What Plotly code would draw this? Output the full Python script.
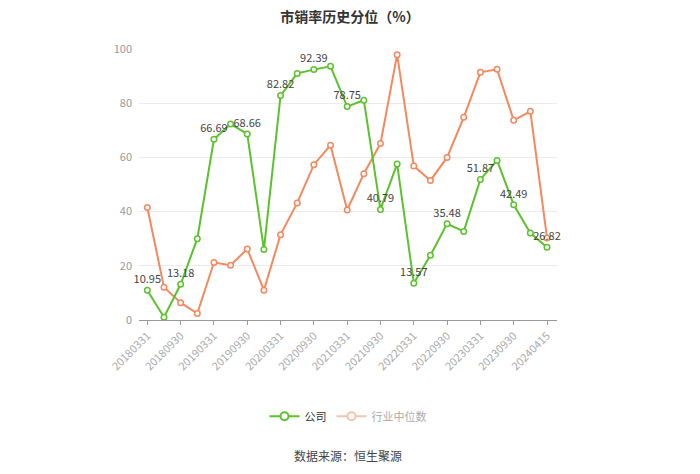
import plotly.graph_objects as go

dates = ["20180331","20180630","20180930","20181231",
         "20190331","20190630","20190930","20191231",
         "20200331","20200630","20200930","20201231",
         "20210331","20210630","20210930","20211231",
         "20220331","20220630","20220930","20221231",
         "20230331","20230630","20230930","20231231",
         "20240415"]
company = [10.95, 1.0, 13.18, 30.0, 66.69, 72.3, 68.66, 26.0,
           82.82, 91.0, 92.39, 93.6, 78.75, 81.1, 40.79, 57.6,
           13.57, 23.9, 35.48, 32.7, 51.87, 58.9, 42.49, 32.1, 26.82]
industry = [41.5, 12.1, 6.4, 2.4, 21.2, 20.2, 26.2, 11.0,
            31.5, 43.2, 57.3, 64.5, 40.6, 54.0, 65.1, 97.9,
            56.8, 51.5, 60.0, 74.8, 91.4, 92.5, 73.7, 77.0, 30.3]
tick_labels = dates[::2]
y_ticks = [0, 20, 40, 60, 80, 100]

labels = [f"{v:.2f}" if i % 2 == 0 else "" for i, v in enumerate(company)]

GREEN = "#5bc22c"
ORANGE = "#f7875d"

fig = go.Figure()
fig.add_trace(go.Scatter(
    x=dates, y=industry, mode="lines+markers", name="行业中位数",
    line=dict(color=ORANGE, width=2),
    marker=dict(symbol="circle", size=5.5, color="white", line=dict(color=ORANGE, width=1.5)),
    showlegend=False))
fig.add_trace(go.Scatter(
    x=dates, y=company, mode="lines+markers+text", name="公司",
    text=labels, textposition="top center",
    textfont=dict(size=11, color="#444"),
    line=dict(color=GREEN, width=2),
    marker=dict(symbol="circle", size=5.5, color="white", line=dict(color=GREEN, width=1.5)),
    showlegend=False, cliponaxis=False))
# legend entries
fig.add_trace(go.Scatter(
    x=[None], y=[None], mode="lines+markers", name="公司",
    line=dict(color=GREEN, width=2),
    marker=dict(symbol="circle", size=8, color="white", line=dict(color=GREEN, width=2))))
fig.add_trace(go.Scatter(
    x=[None], y=[None], mode="lines+markers",
    name='<span style="color:#aaaaaa">行业中位数</span>',
    line=dict(color="#f5c2ad", width=2),
    marker=dict(symbol="circle", size=8, color="white", line=dict(color="#f5c2ad", width=2))))

fig.update_layout(
    width=700, height=474,
    margin=dict(l=139, r=143, t=49, b=154),
    paper_bgcolor="white", plot_bgcolor="white",
    font=dict(family="Noto Sans CJK SC, sans-serif", color="#333"),
    title=dict(text="<b>市销率历史分位（%）</b>", x=0.5, xanchor="center",
               y=0.975, yanchor="top", font=dict(size=14, color="#333")),
    legend=dict(orientation="h", x=0.5, xanchor="center", y=-0.355, yanchor="middle",
                font=dict(size=11, color="#333"), itemwidth=30),
    annotations=[dict(text="数据来源：恒生聚源", xref="paper", yref="paper",
                      x=0.5, y=-0.5, xanchor="center", yanchor="middle",
                      showarrow=False, font=dict(size=12, color="#444"))],
)
fig.update_xaxes(
    type="category", categoryorder="array", categoryarray=dates,
    range=[-0.5, 24.6],
    tickmode="array", tickvals=tick_labels, ticktext=tick_labels,
    tickangle=-45, tickfont=dict(size=11, color="#aaa"),
    showline=True, linecolor="#999", linewidth=1,
    ticks="outside", ticklen=4, tickcolor="#999",
    showgrid=False, zeroline=False)
fig.update_yaxes(
    range=[0, 100], tickvals=y_ticks,
    tickfont=dict(size=11, color="#999"),
    showgrid=True, gridcolor="#ebebeb", zeroline=False,
    ticks="", ticklabelstandoff=6)

fig.write_html("out.html")
